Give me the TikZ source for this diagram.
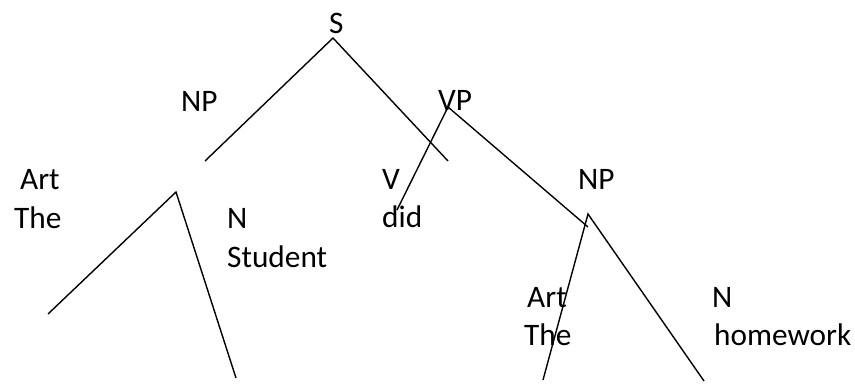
\documentclass[tikz,border=0pt]{standalone}
\usepackage{fontspec}
\setmainfont{Carlito}
\begin{document}
\begin{tikzpicture}[x=1pt,y=-1pt,
  lbl/.style={anchor=base west,inner sep=0pt,font=\fontsize{31.3}{38}\selectfont},
  branch/.style={draw=black,line width=1.4pt}]
\useasboundingbox (0,0) rectangle (855,384);
% labels
\node[lbl] (s) at (329,33) {S};
\node[lbl] (np1) at (181,111) {NP};
\node[lbl] (vp) at (438,110) {VP};
\node[lbl] (art1) at (20,189) {Art};
\node[lbl] (the1) at (14,228) {The};
\node[lbl] (n1) at (227,228) {N};
\node[lbl] (stud) at (227,267) {Student};
\node[lbl] (v) at (382,189) {V};
\node[lbl] (did) at (382,227) {did};
\node[lbl] (np2) at (578,189) {NP};
\node[lbl] (art2) at (527,307) {Art};
\node[lbl] (the2) at (524,345) {The};
\node[lbl] (n2) at (712,307) {N};
\node[lbl] (hw) at (714,345) {homework};
% branch points
\coordinate (sA) at (333,38);
\coordinate (sL) at (205,161);
\coordinate (sR) at (448,161);
\coordinate (vpA) at (448,107);
\coordinate (vpL) at (397,210);
\coordinate (vpR) at (588,227);
\coordinate (npA) at (176,192);
\coordinate (npL) at (48,314);
\coordinate (npR) at (236,378);
\coordinate (np2A) at (588,214);
\coordinate (np2L) at (543,380);
\coordinate (np2R) at (704,381);
% branches
\draw[branch] (sL) -- (sA) -- (sR);
\draw[branch] (vpL) -- (vpA) -- (vpR);
\draw[branch] (npL) -- (npA) -- (npR);
\draw[branch] (np2L) -- (np2A) -- (np2R);
\end{tikzpicture}
\end{document}
